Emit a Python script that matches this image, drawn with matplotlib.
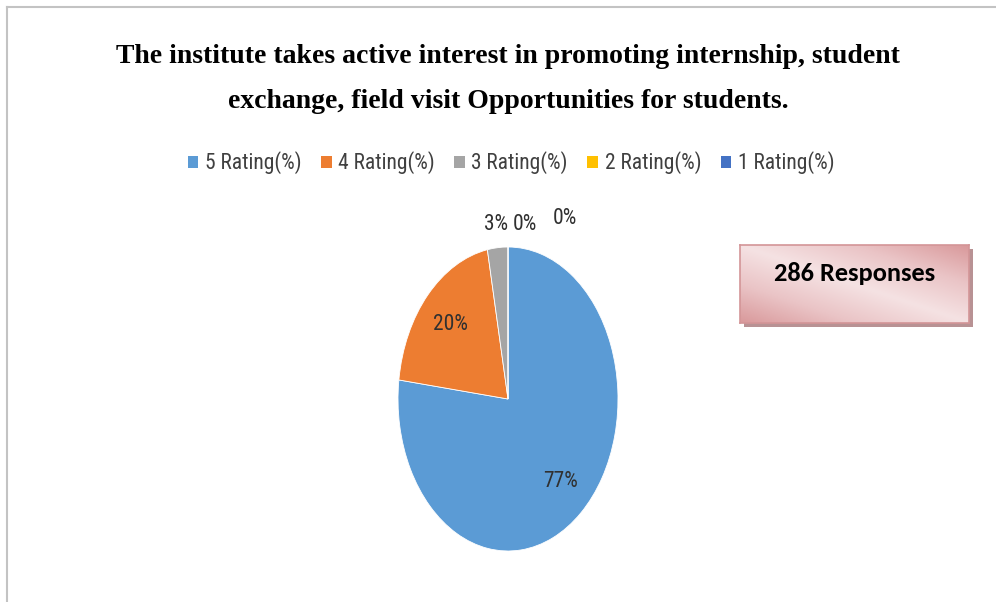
"""Rebuild the internship / student exchange rating pie chart."""

import matplotlib

matplotlib.use("Agg")
import matplotlib.pyplot as plt
import numpy as np
from matplotlib.colors import LinearSegmentedColormap
from matplotlib.lines import Line2D
from matplotlib.patches import Patch, Rectangle

W, H = 996, 602

categories = ["5 Rating(%)", "4 Rating(%)", "3 Rating(%)", "2 Rating(%)", "1 Rating(%)"]
shares = [77, 20, 3, 0, 0]
slice_colors = ["#5b9bd5", "#ed7d31", "#a5a5a5", "#ffc000", "#4472c4"]
title = (
    "The institute takes active interest in promoting internship, student\n"
    "exchange, field visit Opportunities for students."
)
note = "286 Responses"

# label placement per slice: radius from the centre and a sideways nudge
label_radius = [0.72, 0.72, 1.15, 1.15, 1.19]
label_nudge = [0.0, 0.0, 0.0, 0.15, 0.52]

SANS = ["Roboto Condensed", "Carlito", "DejaVu Sans"]


def px(x, y):
    """Pixel position (from top-left) to figure fraction."""
    return x / W, 1 - y / H


def draw_frame(fig):
    grey = "#c3c3c3"
    fig.add_artist(Line2D([7 / W, 1], [1 - 7 / H, 1 - 7 / H], color=grey, lw=1.5))
    fig.add_artist(Line2D([7 / W, 7 / W], [0, 1 - 7 / H], color=grey, lw=1.5))


def draw_pie(fig):
    cx, cy, rx, ry = 508, 399, 110, 152
    left, bottom = px(cx - rx, cy + ry)
    ax = fig.add_axes([left, bottom, 2 * rx / W, 2 * ry / H])
    ax.pie(
        shares,
        colors=slice_colors,
        startangle=90,
        counterclock=False,
        wedgeprops={"edgecolor": "white", "linewidth": 0.6},
    )
    ax.set_aspect("auto")
    ax.set_xlim(-1, 1)
    ax.set_ylim(-1, 1)
    ax.axis("off")

    total = float(sum(shares))
    start = 90.0
    for value, radius, nudge in zip(shares, label_radius, label_nudge):
        sweep = 360.0 * value / total
        mid = np.deg2rad(start - sweep / 2)
        start -= sweep
        ax.text(
            radius * np.cos(mid) + nudge,
            radius * np.sin(mid),
            f"{value:.0f}%",
            ha="center",
            va="center",
            fontsize=15.5,
            family=SANS,
            color="#303030",
            clip_on=False,
        )


def draw_legend(fig):
    handles = [Patch(facecolor=c, edgecolor="none") for c in slice_colors]
    fig.legend(
        handles,
        categories,
        loc="center",
        bbox_to_anchor=px(511, 163),
        ncol=5,
        frameon=False,
        prop={"family": SANS, "size": 15.5},
        handlelength=0.5,
        handleheight=0.5,
        handletextpad=0.3,
        columnspacing=0.9,
        labelcolor="#404040",
    )


def draw_note(fig):
    x0, y0, x1, y1 = 740, 245, 969, 323
    shadow = Rectangle(px(x0 + 4, y1 + 4), (x1 - x0) / W, (y1 - y0) / H,
                       transform=fig.transFigure, facecolor="#b89294",
                       edgecolor="none", zorder=-1)
    fig.add_artist(shadow)

    box_ax = fig.add_axes([x0 / W, 1 - y1 / H, (x1 - x0) / W, (y1 - y0) / H])
    u, v = np.meshgrid(np.linspace(0, 1, 200), np.linspace(1, 0, 80))
    shade = np.abs(u + v - 1.0)
    cmap = LinearSegmentedColormap.from_list("pink", ["#f5e2e3", "#eac4c6", "#d9999b"])
    box_ax.imshow(shade, cmap=cmap, aspect="auto", extent=(0, 1, 0, 1), vmin=0, vmax=1)
    box_ax.set_xticks([])
    box_ax.set_yticks([])
    for spine in box_ax.spines.values():
        spine.set_color("#d39597")
        spine.set_linewidth(1.2)
    box_ax.text(0.5, 0.64, note, ha="center", va="center", fontsize=19,
                fontweight="bold", family=["Carlito", "DejaVu Sans"], color="#000000")


def main():
    fig = plt.figure(figsize=(W / 100, H / 100), dpi=100)
    fig.patch.set_facecolor("white")
    draw_frame(fig)

    fig.text(*px(508, 79), title, ha="center", va="center", fontsize=20,
             fontweight="bold", family=["Liberation Serif", "DejaVu Serif"],
             linespacing=2.05, color="#000000")

    draw_legend(fig)
    draw_pie(fig)
    draw_note(fig)
    fig.savefig("out.png", dpi=100, facecolor="white")
    plt.close(fig)


if __name__ == "__main__":
    main()
